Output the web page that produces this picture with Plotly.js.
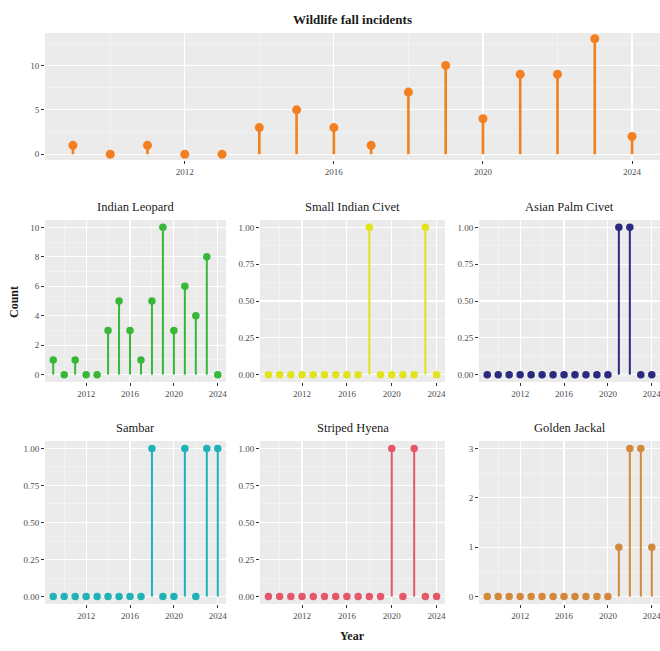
<!DOCTYPE html>
<html>
<head>
<meta charset="utf-8">
<script src="https://cdn.plot.ly/plotly-3.0.1.min.js"></script>
<style>html,body{margin:0;padding:0;background:#fff;}#chart{width:660px;height:651px;}</style>
</head>
<body>
<div id="chart"></div>
<script>
const years = [2009,2010,2011,2012,2013,2014,2015,2016,2017,2018,2019,2020,2021,2022,2023,2024];
const totalFalls      = [1,0,1,0,0,3,5,3,1,7,10,4,9,9,13,2];
const indianLeopard   = [1,0,1,0,0,3,5,3,1,5,10,3,6,4,8,0];
const smallIndianCivet= [0,0,0,0,0,0,0,0,0,1,0,0,0,0,1,0];
const asianPalmCivet  = [0,0,0,0,0,0,0,0,0,0,0,0,1,1,0,0];
const sambar          = [0,0,0,0,0,0,0,0,0,1,0,0,1,0,1,1];
const stripedHyena    = [0,0,0,0,0,0,0,0,0,0,0,1,0,1,0,0];
const goldenJackal    = [0,0,0,0,0,0,0,0,0,0,0,0,1,3,3,1];
const xTickVals = [2012,2016,2020,2024];

const W = 660, H = 651;
const fx = p => p / W;
const fy = p => 1 - p / H;
const FONT = "Liberation Serif, Times New Roman, serif";

const panels = [
  {title:'Wildlife fall incidents', data: totalFalls, color:'#F47F20', x:[45,660], y:[33,160], yr:[-0.65,13.65], dt:5, mdt:2.5, fmt:'d', ms:9, lw:2.6, bold:true},
  {title:'Indian Leopard', data: indianLeopard, color:'#38B738', x:[45,226], y:[220,382], yr:[-0.5,10.5], dt:2, mdt:1, fmt:'d', ms:7.5, lw:2},
  {title:'Small Indian Civet', data: smallIndianCivet, color:'#E3E31C', x:[260,445], y:[220,382], yr:[-0.05,1.05], dt:0.25, mdt:0.125, fmt:'.2f', ms:7.5, lw:2},
  {title:'Asian Palm Civet', data: asianPalmCivet, color:'#2A2A7E', x:[479,660], y:[220,382], yr:[-0.05,1.05], dt:0.25, mdt:0.125, fmt:'.2f', ms:7.5, lw:2},
  {title:'Sambar', data: sambar, color:'#1FB3B8', x:[45,226], y:[441,604], yr:[-0.05,1.05], dt:0.25, mdt:0.125, fmt:'.2f', ms:7.5, lw:2},
  {title:'Striped Hyena', data: stripedHyena, color:'#E5576A', x:[260,445], y:[441,604], yr:[-0.05,1.05], dt:0.25, mdt:0.125, fmt:'.2f', ms:7.5, lw:2},
  {title:'Golden Jackal', data: goldenJackal, color:'#D3883A', x:[479,660], y:[441,604], yr:[-0.15,3.15], dt:1, mdt:0.5, fmt:'d', ms:7.5, lw:2}
];

const traces = [];
const layout = {
  width: W, height: H,
  margin: {l:0, r:0, t:0, b:0},
  paper_bgcolor: '#FFFFFF',
  plot_bgcolor: '#EBEBEB',
  showlegend: false,
  font: {family: FONT, color: '#4D4D4D', size: 9},
  annotations: []
};

panels.forEach((p, i) => {
  const n = i + 1;
  const xa = n === 1 ? 'x' : 'x' + n;
  const ya = n === 1 ? 'y' : 'y' + n;
  const xk = n === 1 ? 'xaxis' : 'xaxis' + n;
  const yk = n === 1 ? 'yaxis' : 'yaxis' + n;
  traces.push({
    type: 'scatter', mode: 'markers',
    x: years, y: p.data, xaxis: xa, yaxis: ya,
    marker: {color: p.color, size: p.ms},
    error_y: {type: 'data', symmetric: false, array: p.data.map(() => 0), arrayminus: p.data,
              width: 0, thickness: p.lw, color: p.color},
    hoverinfo: 'x+y'
  });
  layout[xk] = {
    domain: [fx(p.x[0]), fx(p.x[1])],
    anchor: ya,
    range: [2008.25, 2024.75],
    tickvals: xTickVals,
    ticktext: xTickVals.map(String),
    ticks: 'outside', ticklen: 3, tickcolor: '#333333', tickwidth: 1,
    ticklabeloverflow: 'allow',
    tickfont: {family: FONT, size: 9, color: '#4D4D4D'},
    showgrid: true, gridcolor: '#FFFFFF', gridwidth: 1.1,
    minor: {tickvals: [2008,2010,2014,2018,2022], showgrid: true, gridcolor: '#F7F7F7', gridwidth: 0.6, ticks: ''},
    zeroline: false, showline: false, fixedrange: true
  };
  layout[yk] = {
    domain: [fy(p.y[1]), fy(p.y[0])],
    anchor: xa,
    range: p.yr,
    tick0: 0, dtick: p.dt, tickformat: p.fmt,
    ticks: 'outside', ticklen: 3, tickcolor: '#333333', tickwidth: 1,
    ticklabeloverflow: 'allow',
    tickfont: {family: FONT, size: 9, color: '#4D4D4D'},
    showgrid: true, gridcolor: '#FFFFFF', gridwidth: 1.1,
    minor: {dtick: p.mdt, tick0: 0, showgrid: true, gridcolor: '#F7F7F7', gridwidth: 0.6, ticks: ''},
    zeroline: false, showline: false, fixedrange: true
  };
  layout.annotations.push({
    text: p.bold ? '<b>' + p.title + '</b>' : p.title,
    xref: 'paper', yref: 'paper',
    x: fx((p.x[0] + p.x[1]) / 2), y: fy(p.y[0] - 4),
    xanchor: 'center', yanchor: 'bottom', showarrow: false,
    font: {family: FONT, size: p.bold ? 13 : 12.5, color: '#1A1A1A'}
  });
});

layout.annotations.push({
  text: '<b>Count</b>', xref: 'paper', yref: 'paper',
  x: fx(14), y: fy(302), xanchor: 'center', yanchor: 'middle',
  textangle: -90, showarrow: false,
  font: {family: FONT, size: 12, color: '#1A1A1A'}
});
layout.annotations.push({
  text: '<b>Year</b>', xref: 'paper', yref: 'paper',
  x: fx(353), y: fy(636), xanchor: 'center', yanchor: 'middle',
  showarrow: false,
  font: {family: FONT, size: 12, color: '#1A1A1A'}
});

Plotly.newPlot('chart', traces, layout, {displayModeBar: false, staticPlot: true});
</script>
</body>
</html>
